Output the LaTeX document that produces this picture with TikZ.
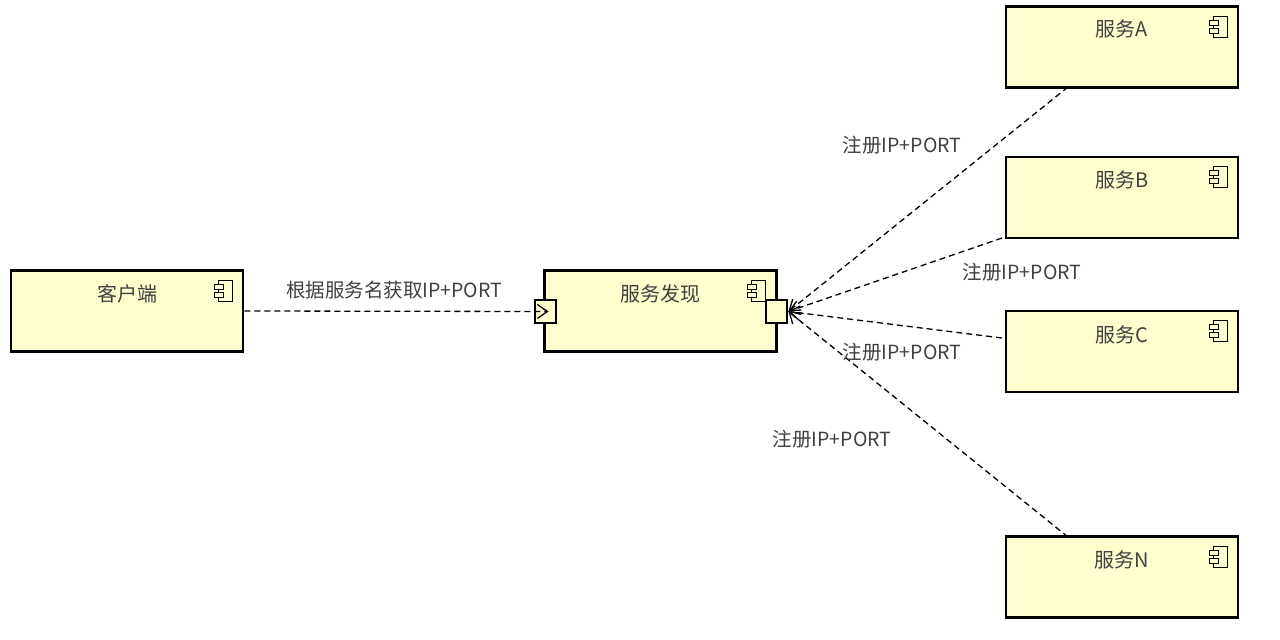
\documentclass[tikz,border=0pt]{standalone}
\usepackage{fontspec}
\setmainfont{Noto Sans CJK SC}
\usetikzlibrary{arrows.meta}
\tikzset{
 comp/.style={draw=black,line width=2.8pt,fill=compfill,minimum width=232pt,minimum height=81pt,inner sep=0pt},
 port/.style={draw=black,line width=2.8pt,fill=compfill,minimum width=21pt,minimum height=23pt,inner sep=0pt},
 lbl/.style={text=black!75,font=\fontsize{19.5pt}{21pt}\selectfont,inner sep=1pt},
 ttl/.style={text=black!75,font=\fontsize{20pt}{22pt}\selectfont,inner sep=1pt},
 conn/.style={dashed,dash pattern=on 6pt off 4pt,line width=1.3pt,-{Straight Barb[length=10pt,width=14pt]}},
}
\definecolor{compfill}{HTML}{FEFECE}
\newcommand{\compicon}[1]{%
 \draw[line width=0.9pt,fill=compfill] ([xshift=-12pt,yshift=-11pt]#1.north east) rectangle ++(-14pt,-21pt);
 \draw[line width=0.9pt,fill=compfill] ([xshift=-21pt,yshift=-15pt]#1.north east) rectangle ++(-9pt,-5pt);
 \draw[line width=0.9pt,fill=compfill] ([xshift=-21pt,yshift=-23pt]#1.north east) rectangle ++(-9pt,-5pt);
}
\begin{document}
\begin{tikzpicture}[x=1pt,y=-1pt]
\useasboundingbox (0,0) rectangle (1280,640);
\node[comp] (cli) at (127,311) {};
\node[ttl] at (127,294) {客户端};
\node[comp] (sd) at (660.5,311) {};
\node[ttl] at (660.5,294) {服务发现};
\node[comp] (sa) at (1122,47) {};
\node[ttl] at (1122,29) {服务A};
\node[comp] (sb) at (1122,197.5) {};
\node[ttl] at (1122,180) {服务B};
\node[comp] (sc) at (1122,351.5) {};
\node[ttl] at (1122,335) {服务C};
\node[comp] (sn) at (1122,577) {};
\node[ttl] at (1122,560) {服务N};
\foreach \n in {cli,sd,sa,sb,sc,sn}{\compicon{\n}}
\node[port] (pl) at (545.5,311.5) {};
\node[port] (pr) at (776.5,311.5) {};
\coordinate (plin) at ([xshift=3pt]pl.center);
\coordinate (prout) at (pr.east);
\coordinate (aa) at (1068,87);
\coordinate (bb) at (1002,238);
\coordinate (cc) at (1002,338);
\coordinate (nn) at (1068,537);
\draw[conn] (cli.east) -- (plin);
\draw[conn] (aa) -- (prout);
\draw[conn] (bb) -- (prout);
\draw[conn] (cc) -- (prout);
\draw[conn] (nn) -- (prout);
\node[lbl] at (394,290) {根据服务名获取IP+PORT};
\node[lbl] at (902,145) {注册IP+PORT};
\node[lbl] at (1022,272) {注册IP+PORT};
\node[lbl] at (902,352) {注册IP+PORT};
\node[lbl] at (832,439) {注册IP+PORT};
\end{tikzpicture}
\end{document}
